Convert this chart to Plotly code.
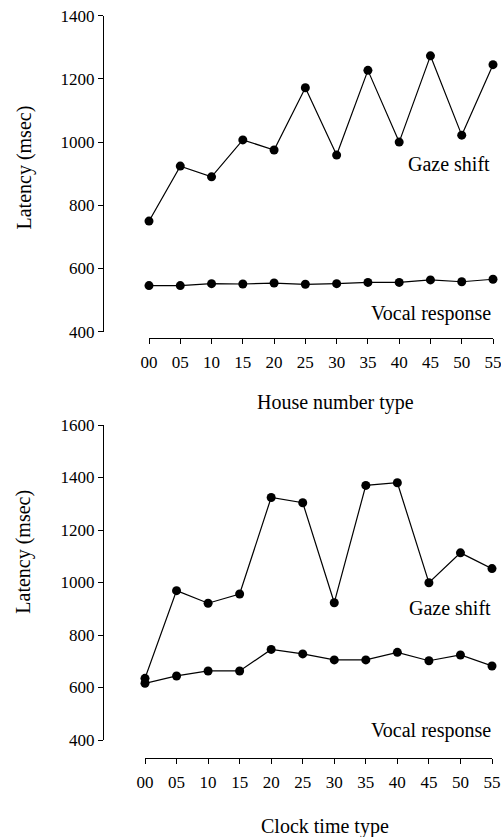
import plotly.graph_objects as go

W, H = 501, 837

categories = ["00", "05", "10", "15", "20", "25", "30", "35", "40", "45", "50", "55"]

house_gaze = [750, 924, 890, 1007, 975, 1172, 959, 1227, 1000, 1273, 1022, 1245]
house_vocal = [546, 546, 552, 551, 554, 550, 552, 556, 556, 564, 558, 566]

clock_gaze = [635, 969, 921, 956, 1324, 1304, 923, 1370, 1380, 999, 1113, 1053]
clock_vocal = [616, 644, 663, 663, 745, 728, 705, 705, 734, 702, 724, 682]

top_yticks = [400, 600, 800, 1000, 1200, 1400]
bottom_yticks = [400, 600, 800, 1000, 1200, 1400, 1600]


def px(x):
    return x / W


def py(y):
    return 1 - y / H


FONT = "Liberation Serif"
idx = list(range(len(categories)))

fig = go.Figure()

line_style = dict(color="black", width=1.2)
marker_style = dict(color="black", size=9)

for series, xa, ya in [
    (house_gaze, "x", "y"),
    (house_vocal, "x", "y"),
    (clock_gaze, "x2", "y2"),
    (clock_vocal, "x2", "y2"),
]:
    fig.add_trace(go.Scatter(
        x=idx, y=series, xaxis=xa, yaxis=ya, mode="lines+markers",
        line=line_style, marker=marker_style, showlegend=False,
        cliponaxis=False, hoverinfo="skip",
    ))

common_x = dict(
    showline=True, linecolor="black", linewidth=1.2, ticks="outside",
    ticklen=5, tickwidth=1.2, tickcolor="black", showgrid=False, zeroline=False,
    tickvals=idx, ticktext=categories, range=[0, 11], anchor="free",
    automargin=False, ticklabeloverflow="allow", ticklabelstandoff=3,
    tickfont=dict(family=FONT, size=17, color="black"),
)
common_y = dict(
    showline=True, linecolor="black", linewidth=1.2, ticks="outside",
    ticklen=5, tickwidth=1.2, tickcolor="black", showgrid=False, zeroline=False,
    anchor="free", position=px(103), automargin=False,
    tickfont=dict(family=FONT, size=17, color="black"),
)

fig.update_layout(
    template="none",
    width=W, height=H,
    margin=dict(l=0, r=0, t=0, b=0, autoexpand=False),
    paper_bgcolor="white", plot_bgcolor="white",
    xaxis=dict(common_x, domain=[px(149), px(493)], position=py(338)),
    yaxis=dict(common_y, domain=[py(331.7), py(15.7)], range=[400, 1400],
               tickvals=top_yticks),
    xaxis2=dict(common_x, domain=[px(145), px(492)], position=py(758.3)),
    yaxis2=dict(common_y, domain=[py(740), py(425)], range=[400, 1600],
                tickvals=bottom_yticks),
)

ann_font = dict(family=FONT, size=20, color="black")
annotations = [
    ("Gaze shift", 492, 164.5, "right", 0),
    ("Vocal response", 493, 313.3, "right", 0),
    ("Gaze shift", 493, 608.3, "right", 0),
    ("Vocal response", 493, 730.7, "right", 0),
    ("House number type", 255, 403, "left", 0),
    ("Clock time type", 259, 826.7, "left", 0),
    ("Latency (msec)", 24, 167.5, "center", -90),
    ("Latency (msec)", 24, 551.7, "center", -90),
]
for text, x, y, xa, rot in annotations:
    fig.add_annotation(
        text=text, xref="paper", yref="paper", x=px(x), y=py(y),
        xanchor=xa, yanchor="middle", showarrow=False, font=ann_font,
        textangle=rot,
    )

fig.write_html(
    "out.html",
    config={"displayModeBar": False},
    post_script="document.body.style.margin='0';document.body.style.overflow='hidden';",
)
